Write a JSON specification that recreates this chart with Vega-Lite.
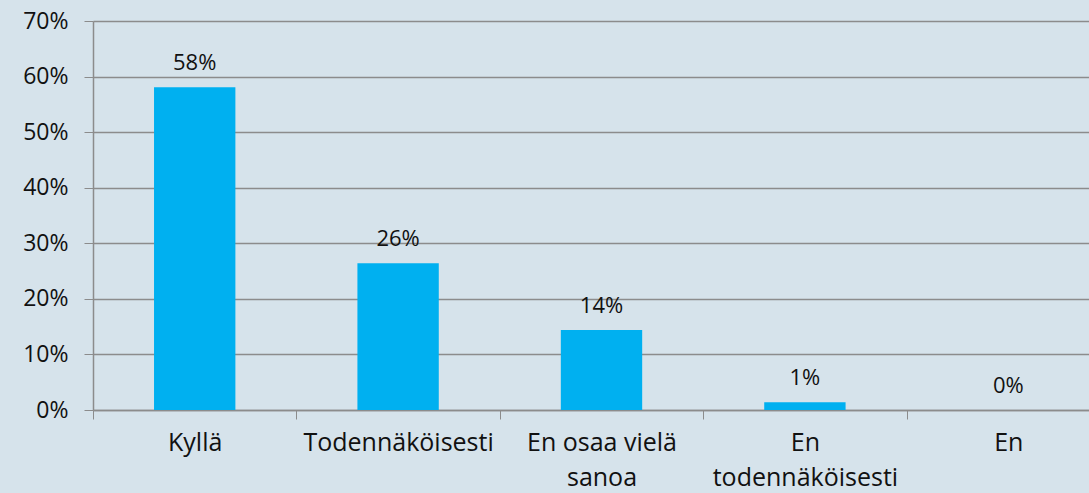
{
  "$schema": "https://vega.github.io/schema/vega-lite/v6.json",
  "autosize": {"type": "none"},
  "width": 996,
  "height": 389,
  "padding": {"left": 93, "top": 21, "right": 0, "bottom": 83},
  "background": "#d6e3eb",
  "config": {
    "view": {"stroke": null},
    "font": "Open Sans"
  },
  "data": {
    "values": [
      {"category": "Kyllä", "value": 0.581},
      {"category": "Todennäköisesti", "value": 0.264},
      {"category": "En osaa vielä|sanoa", "value": 0.144},
      {"category": "En|todennäköisesti", "value": 0.014},
      {"category": "En", "value": 0.0}
    ]
  },
  "encoding": {
    "x": {
      "field": "category",
      "type": "nominal",
      "sort": null,
      "scale": {"range": [0, 1017], "padding": 0},
      "axis": {
        "title": null,
        "labelAngle": 0,
        "labelExpr": "split(datum.label, '|')",
        "labelFont": "Open Sans",
        "labelFontSize": 25,
        "labelColor": "#111111",
        "labelLineHeight": 35,
        "labelPadding": 11,
        "labelBaseline": "top",
        "labelLimit": 0,
        "labelOverlap": false,
        "tickBand": "extent",
        "tickSize": 9,
        "tickColor": "#8c8c8c",
        "domainColor": "#8c8c8c",
        "domainWidth": 1.5,
        "ticks": true
      }
    },
    "y": {
      "field": "value",
      "type": "quantitative",
      "scale": {"domain": [0, 0.7], "nice": false},
      "axis": {
        "title": null,
        "format": ".0%",
        "values": [0, 0.1, 0.2, 0.3, 0.4, 0.5, 0.6, 0.7],
        "labelFont": "Open Sans",
        "labelFontSize": 23,
        "labelColor": "#111111",
        "labelPadding": 16,
        "tickSize": 9,
        "tickColor": "#8c8c8c",
        "domainColor": "#8c8c8c",
        "domainWidth": 1.5,
        "grid": true,
        "gridColor": "#8c8c8c",
        "gridWidth": 1.5
      }
    }
  },
  "layer": [
    {
      "mark": {"type": "bar", "color": "#00b0f0", "width": {"band": 0.4}}
    },
    {
      "mark": {"type": "text", "font": "Open Sans", "fontSize": 22, "color": "#111111", "baseline": "alphabetic", "dy": -17},
      "encoding": {
        "text": {"field": "value", "type": "quantitative", "format": ".0%"}
      }
    }
  ]
}
